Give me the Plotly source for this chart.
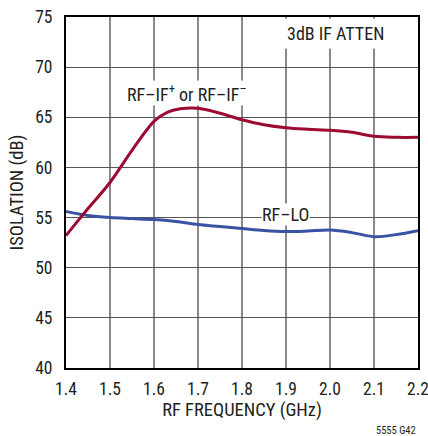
import plotly.graph_objects as go

freq_rf_if = [1.40, 1.42, 1.45, 1.50, 1.55, 1.60, 1.63, 1.66, 1.70, 1.75, 1.80, 1.85, 1.90, 1.95, 2.00, 2.05, 2.10, 2.15, 2.20]
iso_rf_if = [53.2, 54.3, 55.9, 58.5, 61.7, 64.6, 65.5, 65.85, 65.9, 65.4, 64.75, 64.25, 63.95, 63.8, 63.7, 63.5, 63.1, 63.0, 63.0]

freq_rf_lo = [1.40, 1.45, 1.50, 1.55, 1.60, 1.65, 1.70, 1.75, 1.80, 1.85, 1.90, 1.95, 2.00, 2.05, 2.10, 2.15, 2.20]
iso_rf_lo = [55.6, 55.2, 55.0, 54.9, 54.8, 54.6, 54.3, 54.1, 53.9, 53.7, 53.6, 53.65, 53.75, 53.5, 53.1, 53.3, 53.7]

x_ticks = [1.4, 1.5, 1.6, 1.7, 1.8, 1.9, 2.0, 2.1, 2.2]
x_tick_labels = ["1.4", "1.5", "1.6", "1.7", "1.8", "1.9", "2.0", "2.1", "2.2"]
y_ticks = [40, 45, 50, 55, 60, 65, 70, 75]

FONT = "Roboto Condensed, Liberation Sans Narrow, sans-serif"
TXT = "#231f20"

fig = go.Figure()
fig.add_trace(go.Scatter(x=freq_rf_lo, y=iso_rf_lo, mode="lines",
                         line=dict(color="#3953a4", width=3, shape="spline", smoothing=1.0),
                         showlegend=False, hoverinfo="skip"))
fig.add_trace(go.Scatter(x=freq_rf_if, y=iso_rf_if, mode="lines",
                         line=dict(color="#9b0b32", width=3, shape="spline", smoothing=1.0),
                         showlegend=False, hoverinfo="skip"))

fig.add_annotation(x=1.675, y=67.45, text="RF–IF<sup>+</sup> or RF–IF<sup>–</sup>", showarrow=False,
                   font=dict(family=FONT, size=18, color=TXT), bgcolor="white",
                   borderpad=0, xref="x", yref="y")
fig.add_annotation(x=1.898, y=55.3, text="RF–LO", showarrow=False,
                   font=dict(family=FONT, size=18, color=TXT), bgcolor="white",
                   borderpad=0, xref="x", yref="y")
fig.add_annotation(x=2.013, y=73.4, text="3dB IF ATTEN", showarrow=False,
                   font=dict(family=FONT, size=18, color=TXT), bgcolor="white",
                   borderpad=4, xref="x", yref="y")
fig.add_annotation(x=1.0, y=-0.179, xref="paper", yref="paper", xanchor="right", yanchor="middle",
                   xshift=0, text="5555 G42", showarrow=False,
                   font=dict(family=FONT, size=10.5, color=TXT))

fig.update_xaxes(range=[1.4, 2.2], tickvals=x_ticks, ticktext=x_tick_labels,
                 showgrid=True, gridcolor="#8a8a8a", gridwidth=1.5,
                 showline=True, linecolor="black", linewidth=2, mirror=True,
                 ticks="", zeroline=False, automargin=False,
                 ticklabeloverflow="allow", ticklabelstandoff=4,
                 tickfont=dict(family=FONT, size=17.5, color=TXT),
                 title=dict(text="RF FREQUENCY (GHz)", font=dict(family=FONT, size=18.5, color=TXT), standoff=5))
fig.update_yaxes(range=[40, 75], tickvals=y_ticks,
                 showgrid=True, gridcolor="#555555", gridwidth=1.2,
                 showline=True, linecolor="black", linewidth=2, mirror=True,
                 ticks="", zeroline=False, automargin=False,
                 ticklabeloverflow="allow", ticklabelstandoff=8,
                 tickfont=dict(family=FONT, size=17.5, color=TXT),
                 title=dict(text="ISOLATION (dB)", font=dict(family=FONT, size=18.5, color=TXT), standoff=7))

fig.update_layout(width=428, height=436, margin=dict(l=66, r=10, t=17, b=68),
                  plot_bgcolor="white", paper_bgcolor="white", hovermode=False)

fig.write_html("out.html", config={"displayModeBar": False},
               post_script="document.body.style.margin='0';document.body.style.overflow='hidden';")
